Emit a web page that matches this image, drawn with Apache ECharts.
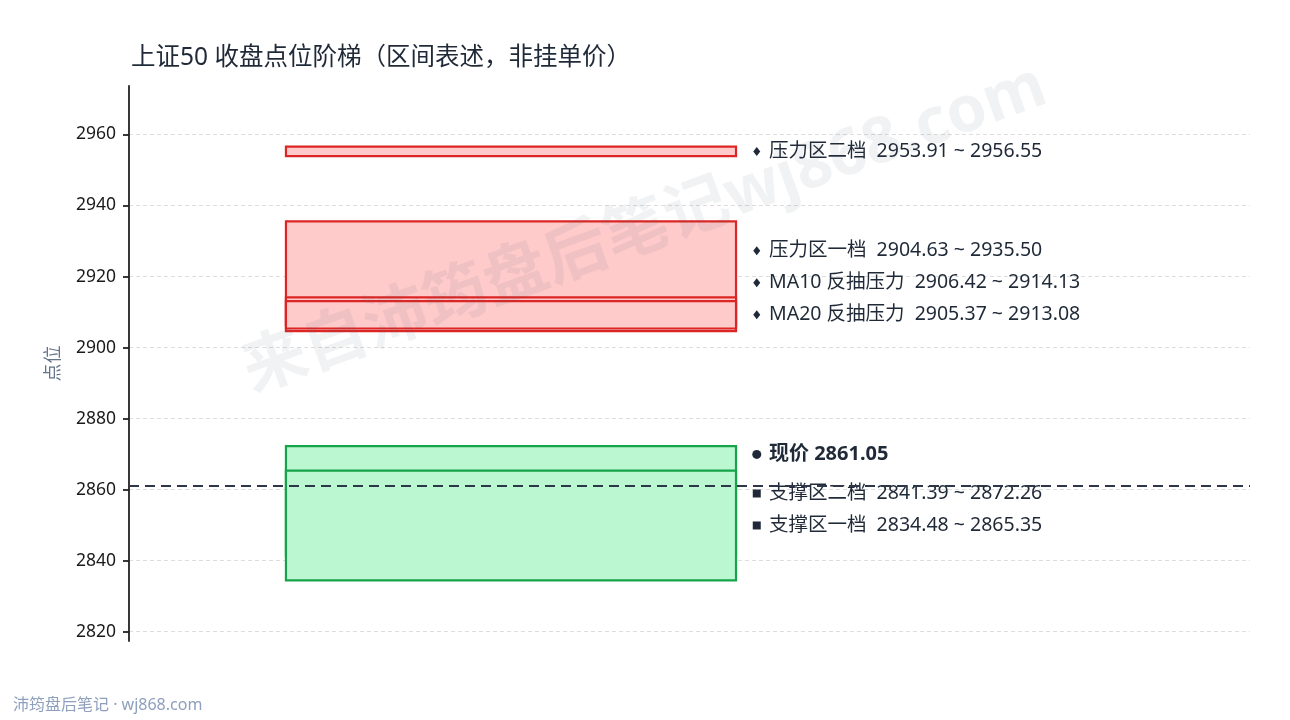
<!DOCTYPE html>
<html><head><meta charset="utf-8">
<script src="https://cdn.jsdelivr.net/npm/echarts@6/dist/echarts.min.js"></script>
<style>html,body{margin:0;padding:0;background:#fff}#c{width:1290px;height:720px}</style>
</head><body><div id="c"></div>
<script>
const titleText = '上证50 收盘点位阶梯（区间表述，非挂单价）';
const zoneNames = ['压力区二档', '压力区一档', 'MA10 反抽压力', 'MA20 反抽压力', '支撑区二档', '支撑区一档'];
const zoneLow  = [2953.91, 2904.63, 2906.42, 2905.37, 2841.39, 2834.48];
const zoneHigh = [2956.55, 2935.50, 2914.13, 2913.08, 2872.26, 2865.35];
const zoneSide = ['resist', 'resist', 'resist', 'resist', 'support', 'support'];
const currentLabel = '现价';
const currentPrice = 2861.05;
const yTicks = [2820, 2840, 2860, 2880, 2900, 2920, 2940, 2960];
const yAxisName = '点位';
const footerText = '沛筠盘后笔记 · wj868.com';
const watermarkText = '来自沛筠盘后笔记wj868.com';

const FONT = '"Noto Sans", "Noto Sans CJK SC", sans-serif';
const STYLE = {
  resist: { fill: '#fecaca', stroke: '#dc2626', marker: 'diamond' },
  support: { fill: '#bbf7d0', stroke: '#16a34a', marker: 'square' }
};
const BOX_X0 = 0.14, BOX_X1 = 0.5415, MARK_X = 0.5600, TEXT_X = 0.5709;

const lo = Math.min(...zoneLow), hi = Math.max(...zoneHigh);
const pad = (hi - lo) * 0.14;
const yMin = lo - pad, yMax = hi + pad;

// label layout (push up from bottom to avoid overlap)
const labels = zoneNames.map((n, i) => ({
  text: n + '  ' + zoneLow[i].toFixed(2) + ' ~ ' + zoneHigh[i].toFixed(2),
  center: (zoneLow[i] + zoneHigh[i]) / 2,
  marker: STYLE[zoneSide[i]].marker, bold: false
}));
labels.push({ text: currentLabel + ' ' + currentPrice.toFixed(2), center: currentPrice, marker: 'circle', bold: true });
labels.sort((a, b) => b.center - a.center);
const GAP = 9, GAP_BOLD = 11;
for (let i = labels.length - 1; i >= 0; i--) {
  let p = labels[i].center;
  if (i < labels.length - 1) {
    const g = (labels[i].bold || labels[i + 1].bold) ? GAP_BOLD : GAP;
    p = Math.max(p, labels[i + 1].pos + g);
  }
  labels[i].pos = p;
}

const chart = echarts.init(document.getElementById('c'));
chart.setOption({
  animation: false,
  backgroundColor: '#ffffff',
  title: {
    text: titleText, left: 126, top: 41,
    textStyle: { fontSize: 24.5, fontWeight: 'normal', color: '#1f2937', fontFamily: FONT }
  },
  grid: { left: 129, right: 40, top: 86, bottom: 79 },
  xAxis: { type: 'value', min: 0, max: 1, show: false },
  yAxis: {
    type: 'value', min: yMin, max: yMax, splitNumber: 8,
    name: yAxisName, nameLocation: 'middle', nameGap: 66,
    nameTextStyle: { fontSize: 18, color: '#64748b', fontFamily: FONT },
    axisLine: { show: true, lineStyle: { color: '#222', width: 1.8 } },
    axisTick: { show: true, length: 6, customValues: yTicks, lineStyle: { color: '#222', width: 1.8 } },
    axisLabel: { customValues: yTicks, margin: 13, fontSize: 17.5, color: '#1a1a1a', fontFamily: FONT,
      formatter: v => String(v) },
    splitLine: { show: true, lineStyle: { color: '#dddddd', type: [4, 3], width: 1 } }
  },
  graphic: [
    { type: 'text', left: 13, top: 697, z: 10, silent: true,
      style: { text: footerText, font: '16px ' + FONT, fill: '#8fa0bd' } },
    { type: 'text', x: 645, y: 230, rotation: 20 * Math.PI / 180, z: 100, silent: true,
      style: { text: watermarkText, font: 'bold 64px ' + FONT, fill: 'rgba(71,85,105,0.08)',
        align: 'center', verticalAlign: 'middle' } }
  ],
  series: [
    {
      type: 'custom', name: 'zones', z: 2,
      data: zoneLow.map((l, i) => [i, l, zoneHigh[i]]),
      encode: { y: [1, 2] },
      renderItem(params, api) {
        const i = api.value(0);
        const cs = params.coordSys;
        const yl = api.coord([0, api.value(1)])[1];
        const yh = api.coord([0, api.value(2)])[1];
        const x0 = cs.x + cs.width * BOX_X0, x1 = cs.x + cs.width * BOX_X1;
        const st = STYLE[zoneSide[i]];
        return { type: 'rect', shape: { x: x0, y: yh, width: x1 - x0, height: yl - yh },
          style: { fill: st.fill, stroke: st.stroke, lineWidth: 2.2 } };
      }
    },
    {
      type: 'custom', name: 'labels', z: 3,
      data: labels.map((l, k) => [k, l.pos]),
      renderItem(params, api) {
        const l = labels[api.value(0)];
        const cs = params.coordSys;
        const cy = api.coord([0, api.value(1)])[1];
        const mx = cs.x + cs.width * MARK_X;
        const tx = cs.x + cs.width * TEXT_X;
        const col = '#1f2937';
        let mk;
        if (l.marker === 'diamond') {
          mk = { type: 'polygon', shape: { points: [[mx, cy - 4.5], [mx + 3.5, cy], [mx, cy + 4.5], [mx - 3.5, cy]] }, style: { fill: col } };
        } else if (l.marker === 'circle') {
          mk = { type: 'circle', shape: { cx: mx, cy: cy, r: 4.5 }, style: { fill: col } };
        } else {
          mk = { type: 'rect', shape: { x: mx - 4, y: cy - 4, width: 8, height: 8 }, style: { fill: col } };
        }
        return { type: 'group', children: [mk, {
          type: 'text', x: tx, y: cy,
          style: { text: l.text, font: (l.bold ? 'bold 20px ' : '19.5px ') + FONT, fill: col,
            align: 'left', verticalAlign: 'middle' }
        }] };
      }
    },
    {
      type: 'custom', name: 'current', z: 5,
      data: [[currentPrice]],
      renderItem(params, api) {
        const cs = params.coordSys;
        const y = api.coord([0, api.value(0)])[1];
        return { type: 'line', shape: { x1: cs.x, y1: y, x2: cs.x + cs.width, y2: y },
          style: { stroke: '#2d3748', lineWidth: 2, lineDash: [10, 6] } };
      }
    }
  ]
});
</script>
</body></html>
